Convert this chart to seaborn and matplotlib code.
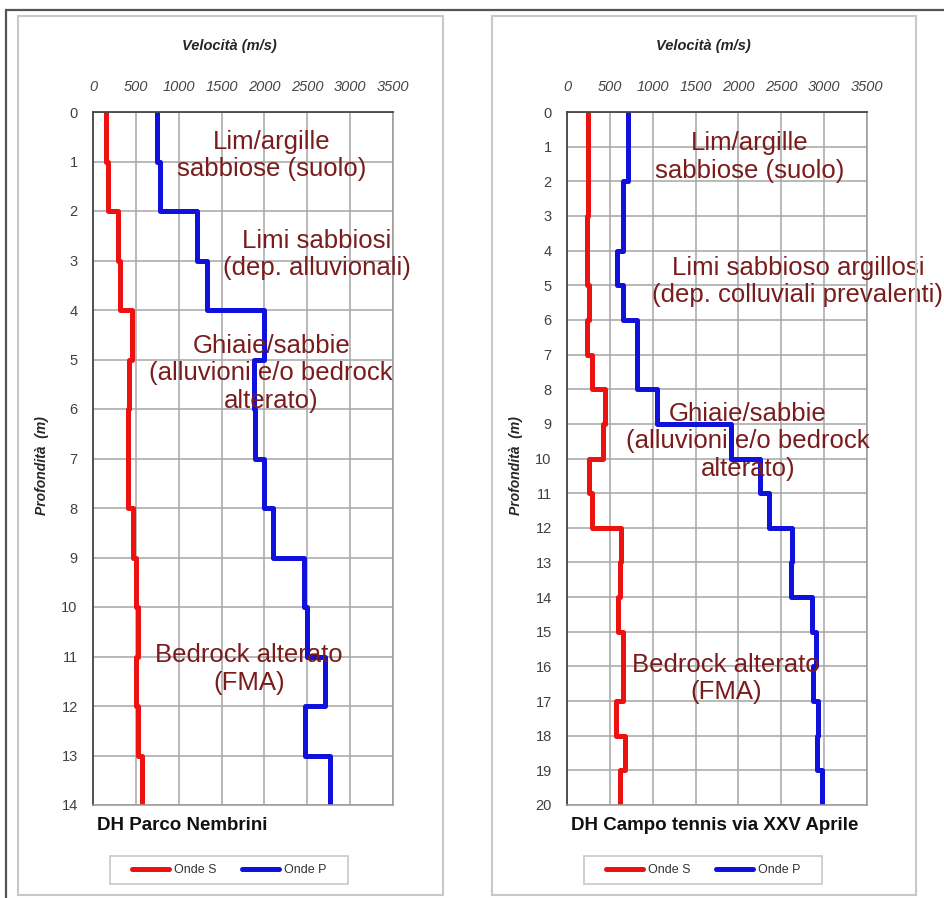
import pandas as pd
from matplotlib import pyplot as plt
from matplotlib.patches import Rectangle
from matplotlib.lines import Line2D
import seaborn as sns

# DH Parco Nembrini: layer limits (m) and velocities (m/s)
nem_depth = [0, 1, 2, 3, 4, 5, 6, 7, 8, 9, 10, 11, 12, 13, 14]
nem_vs = [150, 175, 290, 310, 455, 420, 410, 410, 470, 505, 520, 500, 525, 570]
nem_vp = [745, 780, 1210, 1330, 2000, 1880, 1890, 2000, 2100, 2460, 2500, 2710, 2470, 2760]

# DH Campo tennis via XXV Aprile
ten_depth = list(range(21))
ten_vs = [250, 245, 240, 235, 235, 260, 230, 295, 445, 425,
          255, 295, 630, 620, 600, 657, 657, 570, 677, 620]
ten_vp = [715, 715, 657, 657, 580, 657, 820, 820, 1045, 1910,
          2250, 2360, 2630, 2610, 2855, 2900, 2870, 2930, 2920, 2970]

x_ticks = [0, 500, 1000, 1500, 2000, 2500, 3000, 3500]

nem_notes = [("Lim/argille\nsabbiose (suolo)", 2090, 0.88),
             ("Limi sabbiosi\n(dep. alluvionali)", 2610, 2.88),
             ("Ghiaie/sabbie\n(alluvioni e/o bedrock\nalterato)", 2080, 5.28),
             ("Bedrock alterato\n(FMA)", 1820, 11.25)]
ten_notes = [("Lim/argille\nsabbiose (suolo)", 2135, 1.3),
             ("Limi sabbioso argillosi\n(dep. colluviali prevalenti)", 2695, 4.9),
             ("Ghiaie/sabbie\n(alluvioni e/o bedrock\nalterato)", 2112, 9.5),
             ("Bedrock alterato\n(FMA)", 1855, 16.35)]


def profile(depth, vel, label):
    rows = []
    for i, v in enumerate(vel):
        rows.append({'vel': v, 'depth': depth[i], 'onda': label})
        rows.append({'vel': v, 'depth': depth[i + 1], 'onda': label})
    return rows


sns.set_theme(style="white")
plt.rcParams['font.family'] = ['Liberation Sans', 'DejaVu Sans']

W, H = 944, 898
fig = plt.figure(figsize=(W / 100, H / 100), dpi=100)

# outer frame lines and panel boxes
fig.add_artist(Line2D([6 / W, 1], [1 - 10 / H, 1 - 10 / H], color='#555555', lw=1.6))
fig.add_artist(Line2D([6 / W, 6 / W], [0, 1 - 10 / H], color='#555555', lw=1.6))
for x0, x1 in [(18, 443), (492, 916)]:
    fig.add_artist(Rectangle((x0 / W, 3 / H), (x1 - x0) / W, 879 / H,
                             fill=False, edgecolor='#c8c8c8', lw=1.5))

pal = {'Onde S': '#ee1111', 'Onde P': '#1111dd'}
panels = [
    (93, nem_depth, nem_vs, nem_vp, nem_notes, "DH Parco Nembrini", 14),
    (567, ten_depth, ten_vs, ten_vp, ten_notes, "DH Campo tennis via XXV Aprile", 20),
]

for left, depth, vs, vp, notes, title, dmax in panels:
    ax = fig.add_axes([left / W, 93 / H, 300 / W, 693 / H])
    df = pd.DataFrame(profile(depth, vs, 'Onde S') + profile(depth, vp, 'Onde P'))
    sns.lineplot(data=df, x='vel', y='depth', hue='onda', palette=pal,
                 sort=False, estimator=None, linewidth=3.6, ax=ax)

    ax.set_xlim(0, 3500)
    ax.set_ylim(dmax, 0)
    ax.set_xticks(x_ticks)
    ax.set_yticks(range(dmax + 1))
    ax.xaxis.tick_top()
    ax.tick_params(axis='x', length=0, pad=13, labelsize=10.5, labelcolor='#454545')
    ax.tick_params(axis='y', length=0, pad=11, labelsize=10.5, labelcolor='#404040')
    for lab in ax.get_xticklabels():
        lab.set_fontstyle('italic')
    ax.grid(True, color='#a6a6a6', lw=1.1)
    for side in ['top', 'left']:
        ax.spines[side].set_color('#454545')
        ax.spines[side].set_linewidth(1.3)
    for side in ['bottom', 'right']:
        ax.spines[side].set_color('#9a9a9a')
        ax.spines[side].set_linewidth(1.1)

    ax.set_xlabel('Velocità (m/s)', fontsize=10.5, fontweight='bold',
                  fontstyle='italic', color='#262626')
    ax.xaxis.set_label_position('top')
    ax.xaxis.set_label_coords(0.453, 1.095)
    ax.xaxis.label.set_va('center')
    ax.set_ylabel('Profondità  (m)', fontsize=10, fontweight='bold',
                  fontstyle='italic', color='#262626')
    ax.yaxis.set_label_coords(-0.17, 0.49)
    ax.yaxis.label.set_va('center')

    for txt, x, y in notes:
        ax.text(x, y, txt, ha='center', va='center', fontsize=18.5,
                color='#7a1c1c', linespacing=1.18, clip_on=False)

    ax.text(0.013, -0.029, title, transform=ax.transAxes, ha='left',
            va='center', fontsize=13.5, fontweight='bold', color='#111111')

    # legend box below the plot, 238 x 28 px
    cx = left + 136
    fig.add_artist(Rectangle(((cx - 119) / W, 14 / H), 238 / W, 28 / H,
                             fill=False, edgecolor='#c8c8c8', lw=1.2))
    handles, labels = ax.get_legend_handles_labels()
    ax.legend(handles=handles, labels=labels, ncol=2, loc='center',
              bbox_to_anchor=(cx / W, 28 / H), bbox_transform=fig.transFigure,
              fontsize=9, handlelength=3, columnspacing=2.0,
              handletextpad=0.4, frameon=False, labelcolor='#333333')

fig.savefig('out.png', dpi=100)
